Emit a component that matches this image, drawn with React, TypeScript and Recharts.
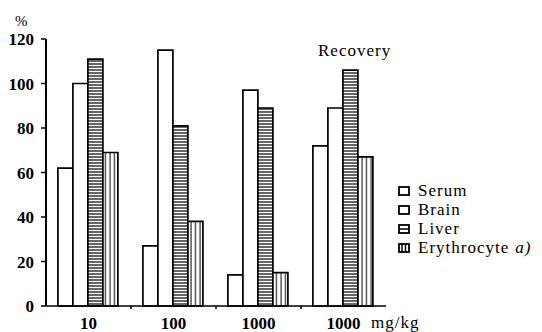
import React from 'react';
import { BarChart, Bar, XAxis, YAxis } from 'recharts';

const categories = ['10', '100', '1000', '1000'];
const serum = [62, 27, 14, 72];
const brain = [100, 115, 97, 89];
const liver = [111, 81, 89, 106];
const erythrocyte = [69, 38, 15, 67];
const yTicks = [0, 20, 40, 60, 80, 100, 120];

const data = categories.map((c, i) => ({
    dose: c,
    serum: serum[i],
    brain: brain[i],
    liver: liver[i],
    erythrocyte: erythrocyte[i],
}));

const series = [
    { key: 'serum', name: 'Serum', fill: '#fff', icon: 'plain' },
    { key: 'brain', name: 'Brain', fill: '#fff', icon: 'plain' },
    { key: 'liver', name: 'Liver', fill: 'url(#hstripe)', icon: 'h' },
    { key: 'erythrocyte', name: 'Erythrocyte', note: 'a)', fill: 'url(#vstripe)', icon: 'v' },
];

const W = 542;
const H = 332;
const M = { top: 39, right: 156, bottom: 6, left: 6 };
const Y_W = 40;
const BAND = (W - M.left - M.right - Y_W) / categories.length;
const FONT = '"Liberation Serif", serif';

// x labels sit under the bands, the small tick marks sit on the band borders
const XTick = ({ x, y, payload, index }: any) => (
    <g>
        {index > 0 && (
            <line x1={x - BAND / 2} x2={x - BAND / 2} y1={y} y2={y + 3} stroke="#000" strokeWidth={1.5} />
        )}
        <text x={x} y={y + 23} textAnchor="middle" fontFamily={FONT} fontSize={17} fontWeight="bold" fill="#000">
            {payload.value}
        </text>
    </g>
);

const LegendIcon = ({ kind }: { kind: string }) => (
    <svg width={12} height={10} style={{ marginRight: 8 }}>
        <rect x={1} y={1} width={10} height={8} fill="#fff" stroke="#000" strokeWidth={1.8} />
        {kind === 'h' && <line x1={1} x2={11} y1={5} y2={5} stroke="#000" strokeWidth={1.5} />}
        {kind === 'v' && (
            <>
                <line x1={4} x2={4} y1={1} y2={9} stroke="#000" strokeWidth={1.5} />
                <line x1={7.5} x2={7.5} y1={1} y2={9} stroke="#000" strokeWidth={1.5} />
            </>
        )}
    </svg>
);

const LegendBox = () => (
    <div style={{ position: 'absolute', left: 398, top: 181, fontFamily: FONT, fontSize: 17, letterSpacing: 1, color: '#000' }}>
        {series.map((s) => (
            <div key={s.key} style={{ display: 'flex', alignItems: 'center', height: 19, whiteSpace: 'nowrap' }}>
                <LegendIcon kind={s.icon} />
                <span>{s.name}</span>
                {s.note && <span style={{ fontStyle: 'italic', marginLeft: 6 }}>{s.note}</span>}
            </div>
        ))}
    </div>
);

export default function App() {
    return (
        <div style={{ position: 'absolute', left: 0, top: 0, width: W, height: H, background: '#fff' }}>
            <BarChart width={W} height={H} data={data} margin={M} barCategoryGap="14%" barGap={0}>
                <defs>
                    <pattern id="hstripe" width={4} height={3} patternUnits="userSpaceOnUse">
                        <rect width={4} height={3} fill="#fff" />
                        <line x1={0} x2={4} y1={1} y2={1} stroke="#000" strokeWidth={1.2} />
                    </pattern>
                    <pattern id="vstripe" width={4.5} height={4} patternUnits="userSpaceOnUse">
                        <rect width={4.5} height={4} fill="#fff" />
                        <line x1={2} x2={2} y1={0} y2={4} stroke="#000" strokeWidth={1} />
                    </pattern>
                </defs>
                <XAxis
                    dataKey="dose"
                    height={20}
                    tickSize={0}
                    tickMargin={0}
                    tick={<XTick />}
                    axisLine={{ stroke: '#000', strokeWidth: 1.5 }}
                    interval={0}
                />
                <YAxis
                    width={Y_W}
                    domain={[0, 120]}
                    ticks={yTicks}
                    tickSize={5}
                    tickMargin={7}
                    axisLine={{ stroke: '#000', strokeWidth: 2 }}
                    tickLine={{ stroke: '#000', strokeWidth: 1.5 }}
                    tick={{ fill: '#000', fontFamily: FONT, fontSize: 17, fontWeight: 'bold' }}
                />
                {series.map((s) => (
                    <Bar
                        key={s.key}
                        dataKey={s.key}
                        name={s.name}
                        fill={s.fill}
                        stroke="#000"
                        strokeWidth={1.7}
                        isAnimationActive={false}
                    />
                ))}
            </BarChart>
            <LegendBox />
            <div style={{ position: 'absolute', left: 15, top: 13, fontFamily: FONT, fontSize: 15 }}>%</div>
            <div style={{ position: 'absolute', left: 318, top: 41, fontFamily: FONT, fontSize: 17, letterSpacing: 1 }}>
                Recovery
            </div>
            <div style={{ position: 'absolute', left: 371, top: 313, fontFamily: FONT, fontSize: 17, letterSpacing: 1 }}>
                mg/kg
            </div>
        </div>
    );
}
